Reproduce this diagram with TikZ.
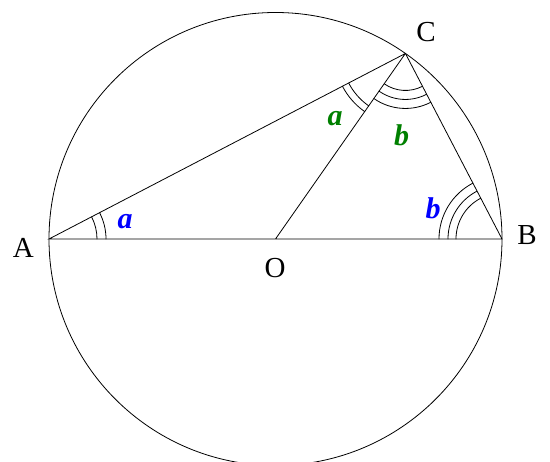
\documentclass[tikz,border=0pt]{standalone}
\usepackage{fontspec}
\setmainfont{Liberation Serif}
\usetikzlibrary{calc}
\definecolor{angblue}{RGB}{0,0,255}
\definecolor{anggreen}{RGB}{0,128,0}
\begin{document}
\begin{tikzpicture}[line cap=round,x=1pt,y=1pt,line width=0.8pt,
	pt/.style={font=\fontsize{29}{30}\selectfont},
	ang/.style={font=\fontsize{30}{31}\selectfont\bfseries\itshape}]
	\useasboundingbox (0,0) rectangle (550,462);
	\coordinate (O) at (275.5,223);
	\coordinate (A) at ($(O)+(180:226.5)$);
	\coordinate (B) at ($(O)+(0:226.5)$);
	\coordinate (C) at ($(O)+(55:226.5)$);
	\draw (O) circle (226.5);
	\draw (A)--(B)--(C)--cycle (C)--(O);
	% angle marks
	\draw (A) ++(0:48) arc (0:27.5:48) (A) ++(0:57) arc (0:27.5:57);
	\foreach \r in {46,54,63}
		\draw (B) ++(117.5:\r) arc (117.5:180:\r);
	\foreach \r in {64,71}
		\draw (C) ++(207.5:\r) arc (207.5:235:\r);
	\foreach \r in {37,46,55}
		\draw (C) ++(235:\r) arc (235:297.5:\r);
	% labels
	\node[pt] (lA) at (23.3,214) {A};
	\node[pt] (lB) at (527,227) {B};
	\node[pt] (lC) at (426,429.5) {C};
	\node[pt] (lO) at (275,193.5) {O};
	\node[ang,text=angblue] (aA) at (125,240.3) {a};
	\node[ang,text=angblue] (bB) at (433,254) {b};
	\node[ang,text=anggreen] (aC) at (335,343) {a};
	\node[ang,text=anggreen] (bC) at (401.7,327) {b};
\end{tikzpicture}
\end{document}
